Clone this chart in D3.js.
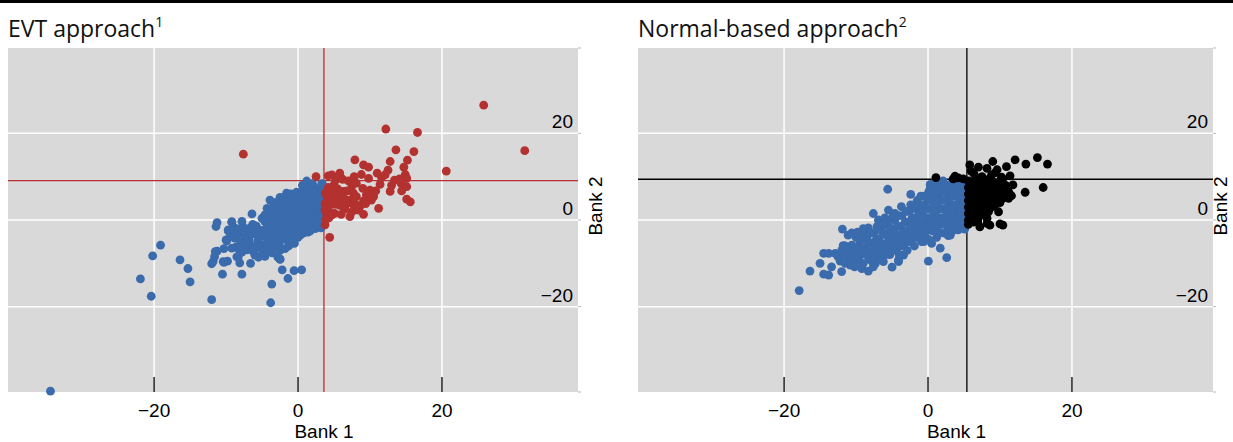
<!DOCTYPE html>
<html>
<head>
<meta charset="utf-8">
<script src="https://cdn.jsdelivr.net/npm/d3@7"></script>
<style>
  body { margin: 0; background: #fff; }
  svg { display: block; }
  .tick-lab { font-family: "Liberation Sans", Arial, sans-serif; font-size: 19px; fill: #000; }
  .ttl { font-family: "Open Sans", sans-serif; font-size: 23px; fill: #111; }
</style>
</head>
<body>
<svg id="chart" width="1233" height="442"></svg>
<script>
// tick values shared by both panels
var xTicks = [-20, 0, 20];
var yTicks = [20, 0, -20];

// EVT approach: thresholds and points (bank 1, bank 2)
var evtThresh = [3.6, 9.1];
var evtBelow = [
 [-34.4,-39.5],[-21.9,-13.6],[-20.4,-17.6],[-20.2,-8.3],[-19.1,-5.8],[-16.4,-9.2],[-15.3,-11.2],[-15.0,-14.3],
 [-12.0,-18.4],[-12.0,-10.1],[-11.6,-8.5],[-11.25,-7.2],[-11.4,-1.5],[-11.25,-0.6],[-10.5,-12.5],[-10.3,-9.8],
 [-9.8,-9.5],[-10.0,-4.6],[-10.3,-6.6],[-9.2,-6.5],[-9.7,-2.5],[-9.0,-2.2],[-9.2,-0.5],[-7.8,-12.5],[-8.3,-8.5],
 [-8.1,-9.9],[-7.7,-1.4],[-6.9,-5.4],[-7.1,-6.9],[-6.6,-10.0],[-6.0,-8.1],[-6.4,-1.7],[-3.65,-14.8],[-3.8,-19.1],
 [-2.5,-9.1],[-2.2,-11.5],[-1.4,-13.5],[-0.55,-11.7],[0.5,-11.5],[-1.3,-6.0],[-2.7,-6.5],[0.3,-3.5],[1.7,-2.3],
 [1.2,9.0],[3.4,8.3],[2.3,7.5],[0.7,6.7],[2.6,5.8],[-1.6,6.2],[-2.5,5.2],[-3.9,4.6],[-3.0,4.1],[-6.4,1.4],
 [-4.3,2.7],[-4.6,1.2],[-9.2,-0.4],[-7.8,-0.3],[-6.7,-1.9],[-9.7,-2.3],[-9.0,-2.5],[-5.5,-2.3],[-9.9,-4.8],
 [-11.5,-7.3],[-11.8,-9.6],[-10.4,-9.6],[-8.5,-8.5],[-2.5,-9.0],[-1.3,-5.8],[0.3,-2.3],[1.7,-2.5],
 [-8.3,-3.2],[-8.0,-5.0],[-7.6,-6.2],[-7.4,-3.8],[-7.0,-2.6],[-6.8,-4.6],[-6.5,-6.0],[-6.2,-7.3],[-6.0,-3.2],
 [-5.8,-1.4],[-5.6,-4.8],[-5.3,-6.4],[-5.0,-2.4],[-5.0,0.4],[-4.7,-3.8],[-4.5,-5.6],[-4.3,-7.2],[-4.2,-1.2],
 [-4.0,1.8],[-3.8,-2.8],[-3.6,-4.6],[-3.4,-6.0],[-3.3,-0.2],[-3.0,2.6],[-3.0,-1.8],[-2.8,-3.6],[-2.6,-5.2],
 [-2.5,-7.0],[-2.4,0.8],[-2.2,3.4],[-2.0,-0.8],[-2.0,-2.6],[-1.8,-4.4],[-1.6,1.8],[-1.5,4.4],[-1.3,0.2],
 [-1.2,-1.6],[-1.0,-3.2],[-0.9,2.8],[-0.7,5.0],[-0.6,-0.6],[-0.4,1.0],[-0.3,-2.2],[0.0,3.6],[0.0,-4.0],
 [0.2,0.2],[0.3,5.6],[0.4,2.0],[0.5,-1.2],[0.8,4.2],[0.9,-0.2],[1.0,1.2],[1.2,7.4],[1.3,2.8],[1.5,-1.6],
 [1.6,0.6],[1.8,4.8],[1.9,6.4],[2.0,1.8],[2.1,-0.6],[2.3,3.4],[2.5,0.4],[2.6,5.0],[2.7,2.2],[2.8,-1.4],
 [3.0,7.0],[3.0,3.8],[3.1,1.0],[3.2,5.8],[3.3,-0.2],[3.4,2.8],[3.4,4.6],[-7.8,-7.4],[-8.8,-4.2],[-8.6,-6.2],
 [-9.4,-3.4],[-5.5,-8.6],[-2.8,-8.6],[-1.2,-4.6],[-0.5,-5.4],[0.8,-3.0],[1.4,-2.8],[2.4,-2.0],[3.2,-1.8],
 [-8.8,-1.8],[-8.2,-6.8],[-7.9,-2.0],[-7.2,-5.2],[-6.6,-3.4],[-6.3,-1.0],[-6.0,-6.6],[-5.7,-2.2],[-5.4,-5.4],
 [-5.1,-3.2],[-4.9,-7.8],[-4.6,-0.4],[-4.4,-2.0],[-4.1,-4.4],[-3.9,-6.6],[-3.7,0.6],[-3.5,-1.2],[-3.2,-3.2],
 [-3.1,-5.4],[-2.9,1.6],[-2.7,-0.6],[-2.5,-2.2],[-2.3,-4.2],[-2.1,2.4],[-1.9,0.2],[-1.7,-1.8],[-1.5,-3.4],
 [-1.3,3.4],[-1.1,1.2],[-0.9,-0.8],[-0.7,-2.6],[-0.5,4.2],[-0.3,2.0],[-0.1,0.0],[0.1,-1.6],[0.3,-3.0],
 [0.5,4.8],[0.6,3.0],[0.7,1.0],[0.9,-0.8],[1.1,6.0],[1.2,4.0],[1.4,1.8],[1.5,0.0],[1.7,-1.0],[1.9,5.6],
 [2.1,3.8],[2.2,1.0],[2.4,-0.2],[2.6,6.8],[2.8,4.4],[2.9,2.8],[3.0,0.4],[3.2,-0.8],[3.3,8.4],[3.3,6.6],
 [3.4,3.4],[3.4,1.8],[0.6,8.0],[2.0,8.4],[-0.2,6.4],[-1.0,6.0],[-2.0,4.6],[-3.4,3.2],[-4.6,-8.4],[-3.6,-7.6],
 [-1.8,-6.6],[-0.8,-4.8],[0.2,-2.0],[1.0,-2.2],[2.0,-1.0]
];
var evtAbove = [
 [12.2,21.0],[16.6,20.2],[-7.6,15.2],[13.6,16.2],[16.1,15.8],[7.9,13.9],[12.8,13.5],[15.2,13.8],[9.1,12.7],
 [9.8,12.2],[14.7,12.2],[12.5,11.5],[20.6,11.3],[5.8,10.8],[8.8,10.5],[2.5,10.0],[4.2,10.2],[4.7,10.4],
 [7.8,10.0],[11.6,9.8],[12.1,10.4],[14.9,10.5],[15.1,9.6],[14.1,9.5],[13.4,9.2],[14.3,8.5],[5.0,8.1],
 [7.5,7.9],[8.1,8.5],[11.4,8.2],[12.8,6.6],[14.4,6.7],[15.1,7.7],[4.7,6.7],[6.3,6.6],[6.8,6.7],[7.7,6.2],
 [9.0,7.3],[10.0,6.9],[10.8,6.7],[9.5,5.8],[4.0,5.4],[4.7,5.0],[6.1,5.8],[7.2,4.6],[8.1,5.4],[9.1,4.4],
 [10.2,4.6],[10.5,5.4],[3.75,3.8],[4.2,3.4],[5.1,3.6],[5.8,3.4],[6.8,3.8],[7.7,3.6],[8.6,3.1],[9.4,3.8],
 [11.2,2.7],[15.1,4.8],[15.6,4.2],[3.75,2.3],[4.4,1.9],[5.1,1.5],[6.0,1.3],[7.2,0.8],[7.5,1.9],[8.4,2.3],
 [9.1,1.3],[8.1,3.5],[4.0,1.2],[4.7,1.2],[3.75,-1.1],[4.4,-4.0],[4.2,7.5],[5.5,7.2],[4.5,4.2],[5.5,4.5],
 [6.5,4.8],[5.0,6.0],[3.9,0.2],[4.3,0.5],[6.5,2.5],[3.8,6.2],[5.2,9.2],[6.2,9.4],[7.0,9.0],[9.8,9.6],
 [11.0,10.8],[13.0,8.0],[31.5,16.0],[25.8,26.5]
];

// Normal-based approach: thresholds and points
var normThresh = [5.4, 9.4];
var normBelow = [
 [-17.9,-16.3],[-16.4,-11.8],[-15.0,-10.0],[-14.5,-7.7],[-13.8,-7.7],[-12.9,-7.7],[-14.5,-12.5],[-13.8,-12.7],
 [-13.4,-10.8],[-12.0,-11.9],[-12.2,-9.2],[-11.9,-2.1],[-11.1,-3.5],[-11.8,-5.9],[-9.2,-11.1],[-8.3,-11.8],
 [-5.0,-10.9],[-4.1,-9.6],[0.05,-9.5],[2.6,-8.7],[1.7,-6.5],[-5.6,7.1],[-2.4,5.9],[-7.6,1.5],[-6.9,0],
 [-5.5,2.3],[-10.6,-5.8],[-9.0,-3.1],[-8.3,-1.8],[-7.1,-1.5],[-6.0,0.5],[-4.6,1.5],[-3.7,3.1],[0.3,7.3],
 [1.0,8.8],[2.1,9.0],[4.2,8.1],[0.3,8.2],[1.9,8.7],[5.1,-2.1],[4.2,-1.9],[2.8,-3.6],[3.1,-3.5],[-0.6,-5.0],
 [0.5,-5.4],[4.9,-1.9],[4.2,-2.3],[-12.2,-9.5],[-11.5,-10.0],[-10.8,-10.4],[-10.2,-10.8],[-9.2,-11.2],
 [-7.6,-10.8],[-6.2,-9.6],[-4.1,-9.2],[-3.4,-8.1],[-4.6,-6.9],
 [-11,-7],[-10.5,-8.5],[-10,-6.5],[-10,-9.5],[-9.5,-5],[-9.3,-8],[-9,-10],[-8.7,-6.5],[-8.5,-4],[-8.2,-9],
 [-8,-7.5],[-7.8,-5.5],[-7.5,-3],[-7.3,-10],[-7.2,-8],[-7,-6.5],[-6.8,-4.5],[-6.5,-2],[-6.3,-9],[-6.2,-7],
 [-6,-5.5],[-5.8,-3.5],[-5.5,-1],[-5.3,-8],[-5.2,-6],[-5,-4.5],[-4.8,-2.5],[-4.6,0],[-4.4,-7],[-4.2,-5],
 [-4,-3.5],[-3.8,-1.5],[-3.6,1],[-3.4,-6],[-3.2,-4],[-3,-2.5],[-2.8,-0.5],[-2.6,2],[-2.4,3.5],[-2.4,-5],
 [-2.2,-3],[-2,-1.5],[-1.8,0.5],[-1.6,2.5],[-1.5,4.5],[-1.4,-4],[-1.2,-2],[-1,-0.5],[-0.8,1.5],[-0.6,3.5],
 [-0.5,5.5],[-0.4,-3],[-0.2,-1],[0,0.5],[0.2,2.5],[0.4,4.5],[0.6,6.5],[0.6,-2.5],[0.8,-0.5],[1,1.5],
 [1.2,3.5],[1.4,5.5],[1.6,7.5],[1.6,-3],[1.8,-1],[2,0.5],[2.2,2.5],[2.4,4.5],[2.6,6.5],[2.8,8],[2.8,-2],
 [3,0],[3.2,1.5],[3.4,3.5],[3.6,5.5],[3.8,7.5],[3.8,-1],[4,0.5],[4.2,2.5],[4.4,4.5],[4.6,6.5],[4.8,8.5],
 [4.8,-0.5],[5,1.5],[5,3.5],[5,5.5],[5,7.5],[-9,-2],[-10,-4],[-11.5,-6],[-12.5,-8.5],
 [-10.2,-7.5],[-9.7,-9],[-9.4,-6.5],[-9.0,-4.5],[-8.6,-8],[-8.3,-5],[-8.0,-3],[-7.8,-9.5],[-7.5,-7],
 [-7.2,-4.5],[-7.0,-2],[-6.8,-8.5],[-6.6,-5.5],[-6.3,-3],[-6.1,-1],[-5.9,-8],[-5.7,-6.5],[-5.5,-4],
 [-5.3,-2],[-5.0,0.5],[-5.0,-7],[-4.8,-5.5],[-4.6,-3.5],[-4.3,-1.5],[-4.1,1],[-4.0,-8],[-3.8,-6],
 [-3.6,-4.5],[-3.4,-2.5],[-3.2,-0.5],[-3.0,2],[-2.9,-7],[-2.8,-5],[-2.6,-3.5],[-2.4,-1.5],[-2.2,0.5],
 [-2.0,3],[-1.9,-6],[-1.8,-4],[-1.6,-2.5],[-1.4,-0.5],[-1.2,1.5],[-1.0,3.5],[-1.0,5.5],[-0.9,-5],
 [-0.8,-3.5],[-0.6,-1.5],[-0.4,0.5],[-0.2,2.5],[0,4.5],[0.1,6.5],[0.1,-4.5],[0.3,-2],[0.5,0],[0.7,2],
 [0.9,4],[1.0,6],[1.1,7.5],[1.2,-4],[1.3,-1.5],[1.5,0.5],[1.7,2.5],[1.9,4.5],[2.1,6.5],[2.2,8],[2.2,-3],
 [2.4,-1],[2.6,1],[2.8,3],[3,5],[3.2,7],[3.3,8.5],[3.4,-2.5],[3.5,-0.5],[3.6,1.5],[3.8,3.5],[4,5.5],
 [4.1,7],[4.3,-1],[4.4,1],[4.5,3],[4.7,5],[4.9,6.5],[5.1,0.5],[5.1,2.5],[5.1,4.5],[5.1,6.5],[5.1,8.5],
 [5.1,-1],[-11.4,-8],[-12,-7],[-11,-9],[-10.6,-3],[-9.8,-2.8]
];
var normAbove = [
 [15.2,14.4],[16.6,12.9],[13.6,12.9],[12.1,13.9],[10.9,12.3],[9.0,13.5],[8.2,11.9],[5.8,12.7],[9.3,10.9],
 [16.0,7.5],[13.5,6.4],[11.6,5.6],[11.2,5.0],[11.8,8.1],[11.2,6.5],[11.4,10.2],[10.2,9.9],[7.5,10.0],
 [1.1,9.8],[3.5,9.5],[4.2,9.7],[4.9,9.5],[3.75,10.1],[6.4,10.6],[8.8,10.3],
 [10.0,-0.9],[9.8,1.9],[8.2,-0.8],[8.2,0.4],[6.5,0],[8.4,1.9],[6.9,-0.4],[8.6,-1.2],[10.4,-1.2],[7.2,-1.6],
 [5.6,9],[5.6,7.5],[5.6,6],[5.6,4.5],[5.6,3],[5.6,1.5],[5.6,0],[5.6,-1],
 [6.3,8.5],[6.3,7],[6.3,5.5],[6.3,4],[6.3,2.5],[6.3,1],[6.3,-0.5],
 [7.0,9.5],[7.0,8],[7.0,6.5],[7.0,5],[7.0,3.5],[7.0,2],[7.0,0.5],
 [7.7,9],[7.7,7.5],[7.7,6],[7.7,4.5],[7.7,3],[7.7,1.5],
 [8.5,9.5],[8.5,8],[8.5,6],[8.5,4],[8.5,2.5],
 [9.3,8.5],[9.3,7],[9.3,5.5],[9.3,3.5],
 [10.0,9],[10.0,7.5],[10.0,6],[10.0,4],[10.8,8],[10.8,6.5],
 [5.9,8.3],[5.9,6.8],[5.9,5.3],[5.9,3.8],[5.9,2.3],[5.9,0.8],[5.9,-0.3],[6.6,9.3],[6.6,7.8],[6.6,6.3],
 [6.6,4.8],[6.6,3.3],[6.6,1.8],[6.6,0.3],[7.3,8.8],[7.3,7.3],[7.3,5.8],[7.3,4.3],[7.3,2.8],[7.3,1.3],
 [8.1,8.3],[8.1,6.8],[8.1,5.3],[8.1,3.8],[8.1,2.3],[8.9,9],[8.9,7.5],[8.9,5],[8.9,3],[9.6,8],[9.6,6.5],
 [9.6,4.5],[10.4,9.5],[10.4,7],[10.4,5],[6,11.3],[7,12.2],[9.6,11.6]
];

var blue = "#3a6bad";
var svg = d3.select("#chart");

// top rule
svg.append("rect").attr("x", 0).attr("y", 0).attr("width", 1233).attr("height", 3).attr("fill", "#000");

function drawPanel(opts) {
	var x = d3.scaleLinear().domain(opts.xDom).range([opts.x0, opts.x1]);
	var y = d3.scaleLinear().domain([-39.7, 39.7]).range([392, 48]);
	var g = svg.append("g");

	// title with superscript note
	var t = g.append("text").attr("class", "ttl").attr("x", opts.x0).attr("y", 37).text(opts.title);
	t.append("tspan").attr("font-size", "14px").attr("dy", -10).text(opts.note);

	g.append("rect").attr("x", opts.x0).attr("y", 48)
		.attr("width", opts.x1 - opts.x0).attr("height", 344).attr("fill", "#d9d9d9");

	// gridlines
	g.selectAll(".vg").data(xTicks).enter().append("line")
		.attr("x1", function(d){return x(d);}).attr("x2", function(d){return x(d);})
		.attr("y1", 48).attr("y2", 392).attr("stroke", "#fff").attr("stroke-width", 1.5);
	g.selectAll(".hg").data(yTicks).enter().append("line")
		.attr("x1", opts.x0).attr("x2", opts.x1)
		.attr("y1", function(d){return y(d);}).attr("y2", function(d){return y(d);})
		.attr("stroke", "#fff").attr("stroke-width", 1.5);

	// small stubs on the right edge
	g.selectAll(".stub").data([39.7].concat(yTicks).concat([-39.7])).enter().append("line")
		.attr("x1", opts.x1).attr("x2", opts.x1 + 3)
		.attr("y1", function(d){return y(d);}).attr("y2", function(d){return y(d);})
		.attr("stroke", "#bbb").attr("stroke-width", 1);

	// threshold lines
	g.append("line").attr("x1", x(opts.thresh[0])).attr("x2", x(opts.thresh[0]))
		.attr("y1", 48).attr("y2", 392).attr("stroke", opts.lineCol).attr("stroke-width", 1.3);
	g.append("line").attr("x1", opts.x0).attr("x2", opts.x1)
		.attr("y1", y(opts.thresh[1])).attr("y2", y(opts.thresh[1]))
		.attr("stroke", opts.lineCol).attr("stroke-width", 1.3);

	// points
	g.selectAll(".pb").data(opts.below).enter().append("circle")
		.attr("cx", function(d){return x(d[0]);}).attr("cy", function(d){return y(d[1]);})
		.attr("r", 4.4).attr("fill", blue);
	g.selectAll(".pa").data(opts.above).enter().append("circle")
		.attr("cx", function(d){return x(d[0]);}).attr("cy", function(d){return y(d[1]);})
		.attr("r", 4.4).attr("fill", opts.dotCol);

	// inside ticks at the bottom
	g.selectAll(".bt").data(xTicks).enter().append("line")
		.attr("x1", function(d){return x(d);}).attr("x2", function(d){return x(d);})
		.attr("y1", 377).attr("y2", 392).attr("stroke", "#000").attr("stroke-width", 1.3);

	// tick labels
	g.selectAll(".xl").data(xTicks).enter().append("text").attr("class", "tick-lab")
		.attr("x", function(d){return x(d);}).attr("y", 417).attr("text-anchor", "middle")
		.text(function(d){return d < 0 ? "\u2212" + Math.abs(d) : d;});
	g.selectAll(".yl").data(yTicks).enter().append("text").attr("class", "tick-lab")
		.attr("x", opts.x1 - 5).attr("y", function(d){return y(d) - 5;}).attr("text-anchor", "end")
		.text(function(d){return d < 0 ? "\u2212" + Math.abs(d) : d;});

	// axis titles
	g.append("text").attr("class", "tick-lab").attr("x", opts.x0 + (opts.x1 - opts.x0) / 2 + 31)
		.attr("y", 438).attr("text-anchor", "middle").text("Bank 1");
	g.append("text").attr("class", "tick-lab").attr("text-anchor", "middle")
		.attr("transform", "translate(" + Math.min(opts.x1 + 24, 1227) + ",206) rotate(-90)").text("Bank 2");
}

drawPanel({x0: 8, x1: 578, xDom: [-40.3, 38.9], title: "EVT approach", note: "1",
	thresh: evtThresh, below: evtBelow, above: evtAbove, lineCol: "#b3312f", dotCol: "#b3312f"});
drawPanel({x0: 638, x1: 1213, xDom: [-40.3, 39.6], title: "Normal-based approach", note: "2",
	thresh: normThresh, below: normBelow, above: normAbove, lineCol: "#000", dotCol: "#000"});
</script>
</body>
</html>
